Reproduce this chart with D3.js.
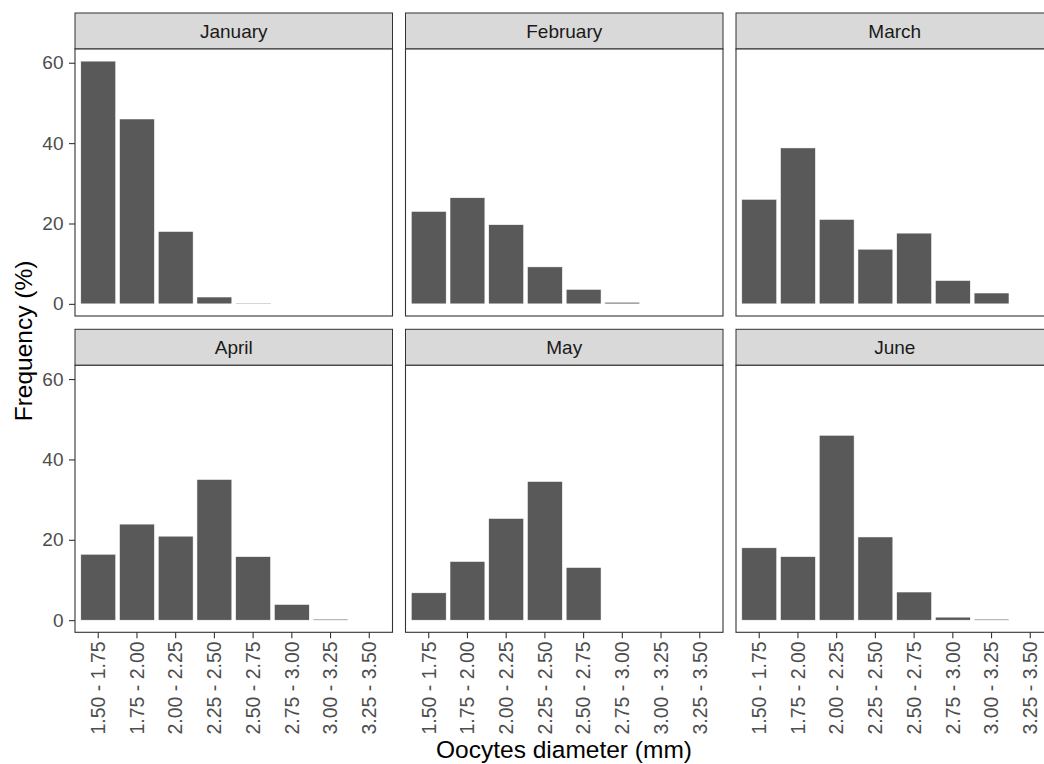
<!DOCTYPE html>
<html>
<head>
<meta charset="utf-8">
<script src="https://cdn.jsdelivr.net/npm/d3@7"></script>
<style>
  body { margin: 0; background: #fff; }
  svg { display: block; font-family: "Liberation Sans", Arial, Helvetica, sans-serif; }
</style>
</head>
<body>
<div id="chart-area"></div>
<script>

// Size
var width = 1044,
    height = 764;

// Data (frequency %)
var months = ["January", "February", "March", "April", "May", "June"];
var bins = ["1.50 - 1.75", "1.75 - 2.00", "2.00 - 2.25", "2.25 - 2.50",
            "2.50 - 2.75", "2.75 - 3.00", "3.00 - 3.25", "3.25 - 3.50"];

var january  = [60.4, 46.0, 18.0, 1.7, 0.2, 0, 0, 0];
var february = [23.0, 26.4, 19.7, 9.2, 3.6, 0.4, 0, 0];
var march    = [26.0, 38.8, 21.0, 13.6, 17.6, 5.8, 2.7, 0];
var april    = [16.4, 23.9, 20.9, 35.0, 15.8, 3.9, 0.25, 0];
var may      = [6.8, 14.6, 25.3, 34.5, 13.1, 0, 0, 0];
var june     = [18.0, 15.8, 46.0, 20.7, 7.0, 0.75, 0.25, 0];

var yTicks = [0, 20, 40, 60];

var series = [january, february, march, april, may, june];

// layout of the facet grid
var marginLeft = 75, marginTop = 13,
    panelW = 317.5, panelH = 267,
    stripH = 36, gapX = 13, gapY = 13.3;

var svg = d3.select("#chart-area").append("svg")
    .attr("width", width)
    .attr("height", height);

var x = d3.scaleBand()
    .domain(bins)
    .range([0, panelW])
    .paddingInner(0.1)
    .paddingOuter(0.15);

var yMax = d3.max(series, function(s) { return d3.max(s); });
var yPad = yMax * 0.05;
var y = d3.scaleLinear()
    .domain([-yPad, yMax + yPad])
    .range([panelH, 0]);

months.forEach(function(m, i) {
    var col = i % 3,
        row = Math.floor(i / 3);
    var gx = marginLeft + col * (panelW + gapX),
        gy = marginTop + row * (stripH + panelH + gapY);

    var g = svg.append("g")
        .attr("transform", "translate(" + gx + "," + gy + ")");

    // strip
    g.append("rect")
        .attr("width", panelW)
        .attr("height", stripH)
        .attr("fill", "#d9d9d9")
        .attr("stroke", "#333")
        .attr("stroke-width", 1);

    g.append("text")
        .attr("x", panelW / 2)
        .attr("y", stripH / 2 + 6.8)
        .attr("text-anchor", "middle")
        .attr("font-size", "19px")
        .attr("fill", "#1a1a1a")
        .text(m);

    var p = g.append("g")
        .attr("transform", "translate(0," + stripH + ")");

    p.append("rect")
        .attr("width", panelW)
        .attr("height", panelH)
        .attr("fill", "#fff");

    var data = bins.map(function(b, j) { return { bin: b, value: series[i][j] }; })
        .filter(function(d) { return d.value > 0; });

    p.selectAll("rect.bar")
        .data(data)
        .enter()
        .append("rect")
        .attr("class", "bar")
        .attr("x", function(d) { return x(d.bin); })
        .attr("width", x.bandwidth())
        .attr("y", function(d) { return y(d.value); })
        .attr("height", function(d) { return y(0) - y(d.value); })
        .attr("fill", "#595959")
        .attr("stroke", "#ffffff")
        .attr("stroke-width", 0.5);

    // panel border
    p.append("rect")
        .attr("width", panelW)
        .attr("height", panelH)
        .attr("fill", "none")
        .attr("stroke", "#333")
        .attr("stroke-width", 1.1);

    if (col === 0) {
        var ya = p.append("g")
            .call(d3.axisLeft(y).tickValues(yTicks).tickSize(6).tickPadding(5.5));
        ya.select(".domain").remove();
        ya.selectAll("line").attr("stroke", "#333").attr("stroke-width", 1.1);
        ya.selectAll("text")
            .attr("font-size", "19px")
            .attr("fill", "#4d4d4d");
        ya.attr("font-family", null);
    }

    if (row === 1) {
        var xa = p.append("g")
            .attr("transform", "translate(0," + panelH + ")")
            .call(d3.axisBottom(x).tickSize(6));
        xa.select(".domain").remove();
        xa.selectAll("line").attr("stroke", "#333").attr("stroke-width", 1.1);
        xa.selectAll("text")
            .attr("transform", "rotate(-90)")
            .attr("x", -9)
            .attr("y", 0)
            .attr("dy", "0.35em")
            .attr("text-anchor", "end")
            .attr("font-size", "19.5px")
            .attr("fill", "#4d4d4d");
        xa.attr("font-family", null);
    }
});

// axis titles
svg.append("text")
    .attr("x", 564)
    .attr("y", 758)
    .attr("text-anchor", "middle")
    .attr("font-size", "24.5px")
    .attr("fill", "#000")
    .text("Oocytes diameter (mm)");

svg.append("text")
    .attr("transform", "translate(32,341) rotate(-90)")
    .attr("text-anchor", "middle")
    .attr("font-size", "24.5px")
    .attr("fill", "#000")
    .text("Frequency (%)");

</script>
</body>
</html>
